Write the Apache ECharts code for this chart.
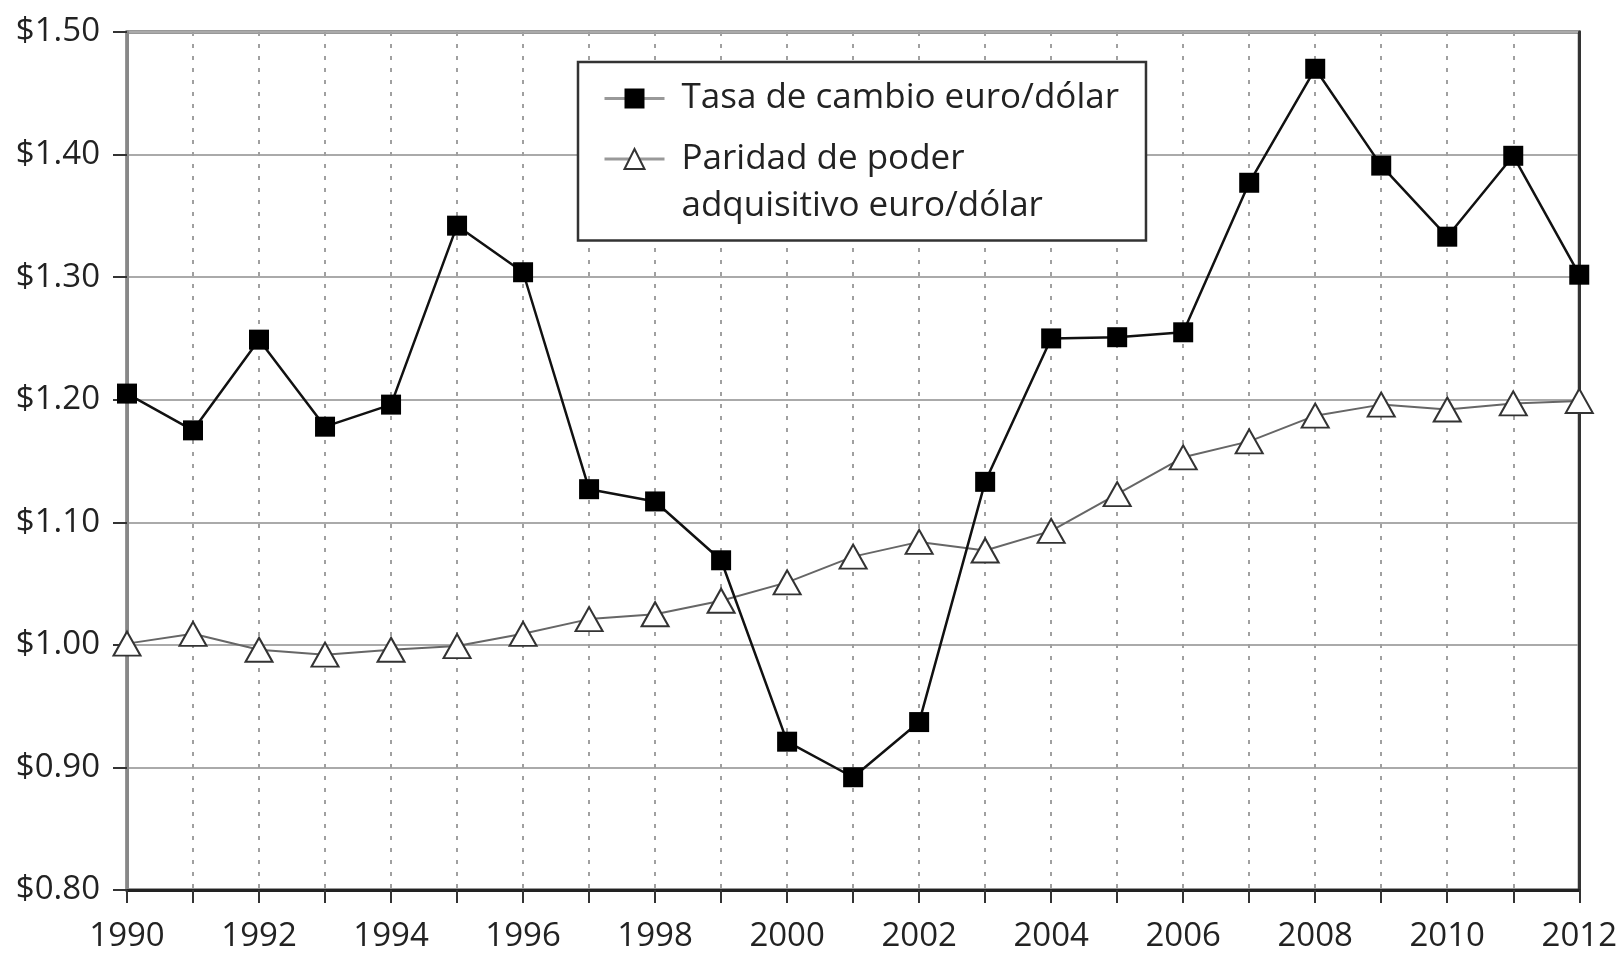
<!DOCTYPE html>
<html>
<head>
<meta charset="utf-8">
<title>Tasa de cambio euro/dólar</title>
<script src="https://cdn.jsdelivr.net/npm/echarts@6/dist/echarts.min.js"></script>
<style>
  html, body { margin: 0; padding: 0; background: #fff; }
  #chart { width: 1620px; height: 953px; }
</style>
</head>
<body>
<div id="chart"></div>
<script>
// data
const years = ['1990', '1991', '1992', '1993', '1994', '1995', '1996', '1997', '1998', '1999', '2000',
  '2001', '2002', '2003', '2004', '2005', '2006', '2007', '2008', '2009', '2010', '2011', '2012'];
const exchangeRate = [1.205, 1.175, 1.249, 1.178, 1.196, 1.342, 1.304, 1.127, 1.117, 1.069, 0.921,
  0.892, 0.937, 1.133, 1.250, 1.251, 1.255, 1.377, 1.470, 1.391, 1.333, 1.399, 1.302];
const pppRate = [1.001, 1.009, 0.996, 0.992, 0.996, 0.999, 1.009, 1.021, 1.025, 1.036, 1.051,
  1.072, 1.084, 1.077, 1.093, 1.123, 1.153, 1.166, 1.187, 1.196, 1.192, 1.197, 1.199];
const seriesNames = ['Tasa de cambio euro/dólar', 'Paridad de poder adquisitivo euro/dólar'];

const font = "'Open Sans', 'Noto Sans', sans-serif";

const chart = echarts.init(document.getElementById('chart'));

const option = {
  animation: false,
  backgroundColor: '#fff',
  grid: {
    left: 127, right: 39, top: 32, bottom: 63,
    show: true,
    borderColor: '#333',
    borderWidth: 3
  },
  legend: {
    left: 578,
    top: 62,
    orient: 'vertical',
    padding: [13, 27, 11, 25],
    itemGap: -33.5,
    itemWidth: 60,
    itemHeight: 25,
    borderColor: '#333',
    borderWidth: 2.5,
    backgroundColor: '#fff',
    textStyle: {
      fontFamily: font,
      fontSize: 35,
      lineHeight: 47,
      color: '#222',
      padding: [0, 0, 0, 12]
    },
    // blank first line keeps "Paridad de poder" level with its icon
    formatter: function (name) {
      return name === seriesNames[1] ? ' \nParidad de poder\nadquisitivo euro/dólar' : name;
    },
    data: [
      { name: seriesNames[0], lineStyle: { color: '#999', width: 3 } },
      { name: seriesNames[1], lineStyle: { color: '#999', width: 3 } }
    ]
  },
  xAxis: [
    {
      type: 'category',
      data: years,
      boundaryGap: false,
      axisLine: { lineStyle: { color: '#222', width: 3 } },
      axisTick: { show: true, interval: 0, length: 13, lineStyle: { color: '#333', width: 2 } },
      axisLabel: {
        interval: 1,
        margin: 30,
        fontFamily: font,
        fontSize: 33,
        color: '#222'
      },
      splitLine: {
        show: true,
        interval: 0,
        lineStyle: { color: '#a0a0a0', width: 2, type: [4, 8] }
      }
    }
  ],
  yAxis: [
    {
      type: 'value',
      min: 0.8,
      max: 1.5,
      interval: 0.1,
      axisLine: { show: true, lineStyle: { color: '#888', width: 3 } },
      axisTick: { show: true, length: 14, lineStyle: { color: '#333', width: 2 } },
      axisLabel: {
        margin: 27,
        fontFamily: font,
        fontSize: 33,
        color: '#222',
        formatter: function (v) { return '$' + v.toFixed(2); }
      },
      splitLine: { show: true, lineStyle: { color: '#aaa', width: 2 } }
    },
    {
      // right frame edge, drawn over the last dashed grid line
      type: 'value',
      position: 'right',
      min: 0.8,
      max: 1.5,
      interval: 0.1,
      axisLine: { show: true, lineStyle: { color: '#333', width: 3 } },
      axisTick: { show: false },
      axisLabel: { show: false },
      splitLine: { show: false }
    }
  ],
  series: [
    {
      name: seriesNames[0],
      type: 'line',
      data: exchangeRate,
      symbol: 'rect',
      symbolSize: 20,
      lineStyle: { color: '#111', width: 2.5 },
      itemStyle: { color: '#000', borderWidth: 0 },
      z: 3
    },
    {
      name: seriesNames[1],
      type: 'line',
      data: pppRate,
      symbol: 'triangle',
      symbolSize: [27, 24],
      lineStyle: { color: '#666', width: 2 },
      itemStyle: { color: '#fff', borderColor: '#333', borderWidth: 2 },
      z: 2
    }
  ]
};

chart.setOption(option);
</script>
</body>
</html>
